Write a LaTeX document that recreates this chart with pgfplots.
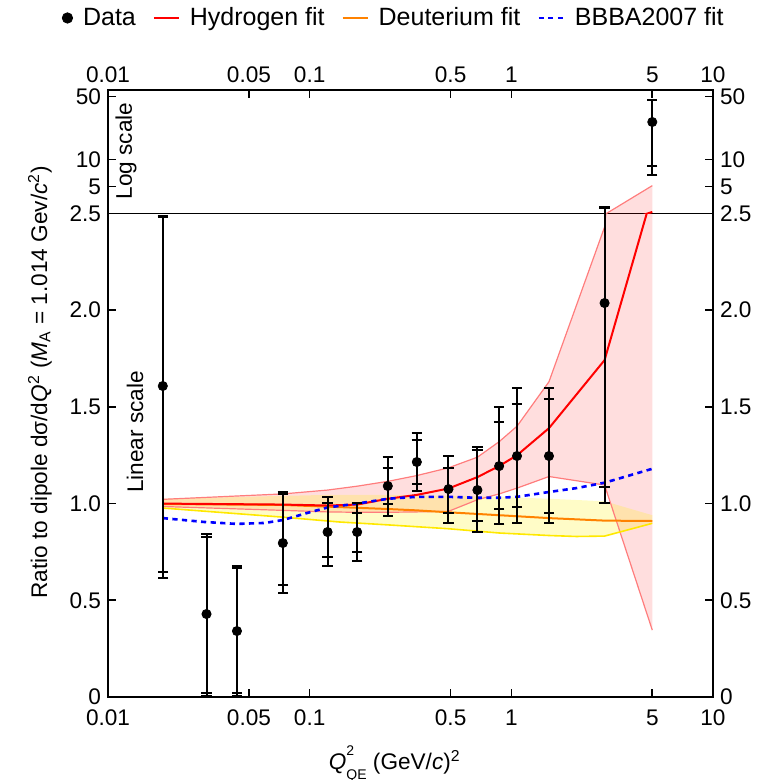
\documentclass[border=0pt]{standalone}
\usepackage{fontspec}
\setmainfont{Liberation Sans}
\usepackage{pgfplots}
\usepackage{pgfplotstable}
\pgfplotsset{compat=1.18}
\definecolor{hred}{RGB}{255,0,0}
\definecolor{hedge}{RGB}{255,125,125}
\definecolor{dorange}{RGB}{255,130,0}
\definecolor{dyellow}{RGB}{255,232,0}
\definecolor{bblue}{RGB}{0,0,255}
\pgfplotsset{
 every axis/.append style={scale only axis, width=302.5pt, xmin=0.01, xmax=10,
  xtick={0.01,0.05,0.1,0.5,1,5,10}, xticklabels={0.01,0.05,0.1,0.5,1,5,10},
  xminorticks=false, yminorticks=false, tick align=inside, major tick length=4pt,
  axis line style={line width=0.8pt,black}, tick style={line width=0.8pt,black},
  tick label style={font=\fontsize{11.3}{13}\selectfont},
 },
}
\pgfplotstableread{
x y
0.0187 1.022
0.0736 1.05
0.1227 1.07
0.172 1.09
0.244 1.115
0.34 1.145
0.488 1.185
0.679 1.24
0.87 1.32
1.067 1.40
1.537 1.63
2.9 2.43
5 5.1
}\hup
\pgfplotstableread{
x y
0.0187 0.985
0.0736 0.965
0.1227 0.957
0.172 0.955
0.244 0.955
0.34 0.957
0.488 0.96
0.679 1.02
0.87 1.05
1.067 1.08
1.537 1.14
2.9 1.096
5 0.346
}\hlo
\pgfplotstableread{
x y
0.0187 1.0
0.0736 0.995
0.1227 0.99
0.172 0.995
0.244 1.025
0.34 1.045
0.488 1.078
0.679 1.137
0.87 1.194
1.067 1.25
1.537 1.39
2.9 1.742
5 2.6
}\hmid
\pgfplotstableread{
x y
0.0187 0.977
0.0736 0.93
0.14 0.905
0.244 0.89
0.488 0.87
0.87 0.848
1.537 0.835
2.1 0.83
2.9 0.832
5 0.898
}\dlo
\pgfplotstableread{
x y
0.0187 0.998
0.0736 0.993
0.14 0.982
0.244 0.972
0.34 0.965
0.488 0.955
0.87 0.94
1.537 0.925
2.9 0.912
5 0.91
}\dmid
\pgfplotstableread{
x y
0.0187 0.925
0.03 0.905
0.0436 0.895
0.06 0.9
0.0736 0.915
0.1 0.955
0.1227 0.98
0.172 1.0
0.244 1.025
0.34 1.035
0.488 1.035
0.679 1.03
0.87 1.03
1.067 1.035
1.537 1.06
2.1 1.08
2.9 1.108
5 1.18
}\bbba
\begin{document}
\begin{tikzpicture}[font=\fontsize{11.3}{13}\selectfont]
\path[use as bounding box] (-54pt,-41.5pt) rectangle (330.5pt,348.5pt);
% ---------------- lower (linear) axis
\begin{axis}[xmode=log, at={(0,0)}, anchor=south west, height=241.75pt,
  ymin=0, ymax=2.5, ytick={0,0.5,1,1.5,2,2.5}, yticklabels={0,0.5,1.0,1.5,2.0,2.5},
  xtick pos=left, xticklabel pos=left, ytick pos=both, yticklabel pos=left,
  xticklabel style={yshift=-3pt},
  xlabel={\textit{Q}\makebox[0pt][l]{\raisebox{0.62em}{\fontsize{7}{8}\selectfont 2}}\raisebox{-0.45em}{\fontsize{7}{8}\selectfont QE}\ (GeV/\textit{c})\textsuperscript{2}},
  xlabel style={at={(axis description cs:0.474,-0.1385)}, anchor=center},
  ylabel={Ratio to dipole dσ/d\textit{Q}\textsuperscript{2} (\textit{M}\textsubscript{A} = 1.014 Gev/\textit{c}\textsuperscript{2})},
  ylabel style={at={(axis description cs:-0.1124,0.651)}, anchor=center},
]
\addplot[fill=red, fill opacity=0.13, draw=none, forget plot] coordinates {
(0.0187,1.022) (0.0736,1.05) (0.1227,1.07) (0.172,1.09) (0.244,1.115) (0.34,1.145) (0.488,1.185) (0.679,1.24) (0.87,1.32) (1.067,1.40) (1.537,1.63) (2.9,2.43) (5,5.1)
(5,0.346) (2.9,1.096) (1.537,1.14) (1.067,1.08) (0.87,1.05) (0.679,1.02) (0.488,0.96) (0.34,0.957) (0.244,0.955) (0.172,0.955) (0.1227,0.957) (0.0736,0.965) (0.0187,0.985)};
\addplot[fill=yellow, fill opacity=0.22, draw=none, forget plot] coordinates {
(0.0187,1.025) (0.0736,1.04) (0.1227,1.045) (0.244,1.045) (0.488,1.04) (0.87,1.035) (1.537,1.025) (2.9,1.012) (5,0.94)
(5,0.898) (2.9,0.832) (2.1,0.83) (1.537,0.835) (0.87,0.848) (0.488,0.87) (0.244,0.89) (0.14,0.905) (0.0736,0.93) (0.0187,0.977)};
\addplot[hedge, line width=0.6pt, forget plot] table {\hup};
\addplot[hedge, line width=0.6pt, forget plot] table {\hlo};
\addplot[dyellow, line width=0.8pt, forget plot] table {\dlo};
\addplot[dorange, line width=1pt, forget plot] table {\dmid};
\addplot[hred, line width=1pt, forget plot] table {\hmid};
\addplot[bblue, line width=1.3pt, dash pattern=on 2.6pt off 2.2pt, forget plot] table {\bbba};
% total uncertainties
\addplot[black, mark=none, draw=none, forget plot, error bars/.cd, y dir=both, y explicit,
   error bar style={draw=black, line width=1pt, solid},
   error mark options={rotate=90, draw=black, line width=0.9pt, mark size=2.6pt, solid}] coordinates {
(0.0187,1.608) += (0,0.882) -= (0,0.993)
(0.0308,0.429) += (0,0.414) -= (0,0.424)
(0.0436,0.341) += (0,0.336) -= (0,0.336)
(0.0736,0.796) += (0,0.264) -= (0,0.258)
(0.1227,0.853) += (0,0.181) -= (0,0.176)
(0.172,0.853) += (0,0.15) -= (0,0.15)
(0.244,1.091) += (0,0.15) -= (0,0.155)
(0.34,1.215) += (0,0.15) -= (0,0.15)
(0.488,1.075) += (0,0.171) -= (0,0.175)
(0.679,1.070) += (0,0.223) -= (0,0.217)
(0.87,1.194) += (0,0.306) -= (0,0.3)
(1.067,1.246) += (0,0.352) -= (0,0.346)
(1.537,1.246) += (0,0.352) -= (0,0.346)
(2.9,2.037) += (0,0.913) -= (0,1.034)
};
% statistical uncertainties
\addplot[black, mark=none, draw=none, forget plot, error bars/.cd, y dir=both, y explicit,
   error bar style={draw=black, line width=1pt, solid},
   error mark options={rotate=90, draw=black, line width=0.9pt, mark size=2.6pt, solid}] coordinates {
(0.0187,1.608) += (0,0.872) -= (0,0.962)
(0.0308,0.429) += (0,0.398) -= (0,0.409)
(0.0436,0.341) += (0,0.326) -= (0,0.321)
(0.0736,0.796) += (0,0.254) -= (0,0.217)
(0.1227,0.853) += (0,0.150) -= (0,0.129)
(0.172,0.853) += (0,0.098) -= (0,0.103)
(0.244,1.091) += (0,0.093) -= (0,0.093)
(0.34,1.215) += (0,0.114) -= (0,0.114)
(0.488,1.075) += (0,0.109) -= (0,0.124)
(0.679,1.070) += (0,0.207) -= (0,0.16)
(0.87,1.194) += (0,0.228) -= (0,0.222)
(1.067,1.246) += (0,0.269) -= (0,0.264)
(1.537,1.246) += (0,0.295) -= (0,0.295)
(2.9,2.037) += (0,0.86) -= (0,0.951)
};
\addplot[only marks, mark=*, mark size=2.3pt, black, forget plot] coordinates {
(0.0187,1.608) (0.0308,0.429) (0.0436,0.341) (0.0736,0.796) (0.1227,0.853) (0.172,0.853)
(0.244,1.091) (0.34,1.215) (0.488,1.075) (0.679,1.070) (0.87,1.194) (1.067,1.246) (1.537,1.246) (2.9,2.037)};
\node[rotate=90, anchor=center] at (axis description cs:0.0446,0.548) {Linear scale};
\end{axis}
% right labels of lower axis
\begin{axis}[xmode=log, at={(0,0)}, anchor=south west, height=241.75pt,
  ymin=0, ymax=2.5, ytick={0,0.5,1,1.5,2,2.5}, yticklabels={0,0.5,1.0,1.5,2.0,2.5},
  axis x line=none, axis y line*=right, yticklabel pos=right, ytick style={draw=none}]
\addplot[draw=none] coordinates {(1,1)};
\end{axis}
% ---------------- upper (log) axis
\begin{axis}[xmode=log, at={(0,241.75pt)}, anchor=south west, height=61.75pt,
  ymode=log, ymin=2.5, ymax=59, ytick={5,10,50}, yticklabels={5,10,50},
  xtick pos=right, xticklabel pos=right, ytick pos=both, yticklabel pos=left,
  legend columns=4,
  legend style={at={(axis description cs:0.474,1.583)}, anchor=center, draw=none, fill=none,
    font=\fontsize{12.5}{14}\selectfont,
    /tikz/every odd column/.append style={column sep=3pt},
    /tikz/every even column/.append style={column sep=6.5pt}},
  legend image code/.code={\draw[#1] (0pt,0pt) -- (12.5pt,0pt);},
]
\addplot[fill=red, fill opacity=0.13, draw=none, forget plot] coordinates {
(0.0187,1.022) (0.0736,1.05) (0.1227,1.07) (0.172,1.09) (0.244,1.115) (0.34,1.145) (0.488,1.185) (0.679,1.24) (0.87,1.32) (1.067,1.40) (1.537,1.63) (2.9,2.43) (5,5.1)
(5,0.346) (2.9,1.096) (1.537,1.14) (1.067,1.08) (0.87,1.05) (0.679,1.02) (0.488,0.96) (0.34,0.957) (0.244,0.955) (0.172,0.955) (0.1227,0.957) (0.0736,0.965) (0.0187,0.985)};
\addplot[hedge, line width=0.6pt, forget plot] table {\hup};
\addplot[hred, line width=1pt, forget plot] table {\hmid};
\addplot[black, mark=none, draw=none, forget plot, error bars/.cd, y dir=both, y explicit,
   error bar style={draw=black, line width=1pt, solid},
   error mark options={rotate=90, draw=black, line width=0.9pt, mark size=2.6pt, solid}] coordinates {
(2.9,2.037) += (0,0.913) -= (0,1.034)
(5,26) += (0,19.6) -= (0,19.3)};
\addplot[black, mark=none, draw=none, forget plot, error bars/.cd, y dir=both, y explicit,
   error bar style={draw=black, line width=1pt, solid},
   error mark options={rotate=90, draw=black, line width=0.9pt, mark size=2.6pt, solid}] coordinates {
(2.9,2.037) += (0,0.86) -= (0,0.951)
(5,26) += (0,19.4) -= (0,17.6)};
\addplot[only marks, mark=*, mark size=2.3pt, black, forget plot] coordinates {(5,26)};
\node[rotate=90, anchor=center] at (axis description cs:0.0298,0.506) {Log scale};
\addlegendimage{legend image code/.code={\fill[black] (4pt,0pt) circle (2.6pt);}}
\addlegendentry{Data}
\addlegendimage{hred, line width=1pt}
\addlegendentry{Hydrogen fit}
\addlegendimage{dorange, line width=1pt}
\addlegendentry{Deuterium fit}
\addlegendimage{bblue, line width=1.3pt, dash pattern=on 2.6pt off 2.2pt}
\addlegendentry{BBBA2007 fit}
\end{axis}
\begin{axis}[xmode=log, at={(0,241.75pt)}, anchor=south west, height=61.75pt,
  ymode=log, ymin=2.5, ymax=59, ytick={5,10,50}, yticklabels={5,10,50},
  axis x line=none, axis y line*=right, yticklabel pos=right, ytick style={draw=none}]
\addplot[draw=none] coordinates {(1,3)};
\end{axis}
\end{tikzpicture}
\end{document}
